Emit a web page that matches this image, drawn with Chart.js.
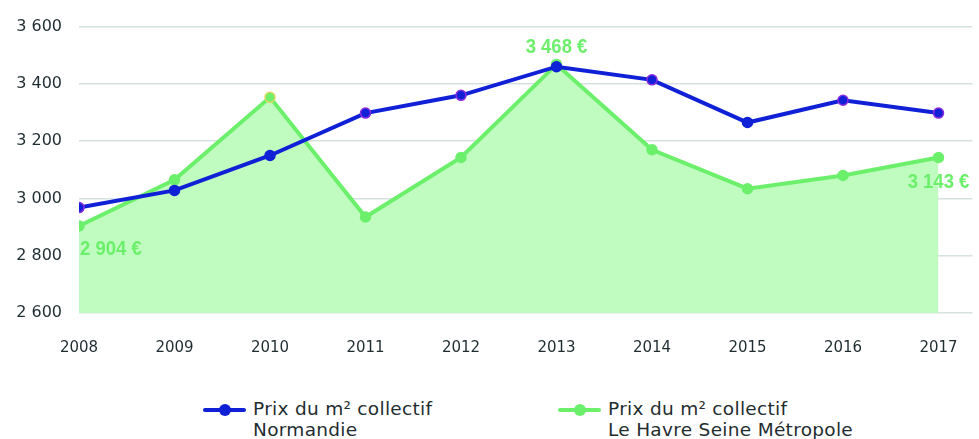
<!DOCTYPE html>
<html>
<head>
<meta charset="utf-8">
<script src="https://cdn.jsdelivr.net/npm/chart.js@4.4.1/dist/chart.umd.min.js"></script>
<style>
  body { margin: 0; background: #fff; }
  #wrap { position: relative; width: 979px; height: 439px; }
  #chart { position: absolute; left: 0; top: 0; }
  .legend { position: absolute; top: 398px; font-family: "DejaVu Sans", sans-serif; font-size: 18.5px; letter-spacing: 0.3px; line-height: 21px; color: #1f2d30; }
  .legend .swatch { position: absolute; left: 0; top: 10px; width: 43px; height: 4px; border-radius: 2px; }
  .legend .dot { position: absolute; left: 16px; top: 6px; width: 12px; height: 12px; border-radius: 50%; }
  .legend .txt { position: absolute; left: 50px; top: 0; white-space: nowrap; }
</style>
</head>
<body>
<div id="wrap">
  <canvas id="chart" width="979" height="360"></canvas>
  <div class="legend" style="left:203px">
    <span class="swatch" style="background:#1020d6"></span><span class="dot" style="background:#1020d6"></span>
    <span class="txt">Prix du m² collectif<br>Normandie</span>
  </div>
  <div class="legend" style="left:558px">
    <span class="swatch" style="background:#6cf06c"></span><span class="dot" style="background:#6cf06c"></span>
    <span class="txt">Prix du m² collectif<br>Le Havre Seine Métropole</span>
  </div>
</div>
<script>
const years = [2008, 2009, 2010, 2011, 2012, 2013, 2014, 2015, 2016, 2017];
const normandie = [2968, 3028, 3150, 3298, 3360, 3460, 3414, 3265, 3343, 3298];
const leHavre = [2904, 3065, 3353, 2935, 3143, 3468, 3170, 3034, 3080, 3143];
const yTicks = [2600, 2800, 3000, 3200, 3400, 3600];

// which green points get a value label, and how
const labelled = [
    { i: 0, align: 'left', dy: 23 },
    { i: 5, align: 'center', dy: -17 },
    { i: 9, align: 'center', dy: 25 }
];

const blueBorders = ['#8a2be2', '#1020d6', '#1020d6', '#8a2be2', '#8a2be2', '#1020d6', '#8a2be2', '#1020d6', '#8a2be2', '#8a2be2'];
const greenBorders = ['#6cf06c', '#6cf06c', '#d8d860', '#6cf06c', '#6cf06c', '#6cf06c', '#6cf06c', '#6cf06c', '#6cf06c', '#6cf06c'];

function fmt(v) {
    return String(v).replace(/\B(?=(\d{3})+(?!\d))/g, ' ');
}

const valueLabels = {
    id: 'valueLabels',
    afterDatasetsDraw(chart) {
        const ctx = chart.ctx;
        const meta = chart.getDatasetMeta(1);
        const sx = 0.88;
        ctx.save();
        ctx.font = 'bold 21px "Liberation Sans", sans-serif';
        ctx.fillStyle = '#6cf06c';
        ctx.textBaseline = 'middle';
        labelled.forEach(l => {
            const pt = meta.data[l.i];
            ctx.save();
            ctx.translate(pt.x + (l.align === 'left' ? 1 : 0), pt.y + l.dy);
            ctx.scale(sx, 1);
            ctx.textAlign = l.align;
            ctx.fillText(fmt(leHavre[l.i]) + ' €', 0, 0);
            ctx.restore();
        });
        ctx.restore();
    }
};

new Chart(document.getElementById('chart').getContext('2d'), {
    type: 'line',
    data: {
        datasets: [{
            label: 'Prix du m² collectif Normandie',
            data: years.map((y, i) => ({ x: y, y: normandie[i] })),
            borderColor: '#1020d6',
            backgroundColor: '#1020d6',
            borderWidth: 4,
            pointRadius: 5,
            pointBorderWidth: 1.5,
            pointBorderColor: blueBorders,
            pointBackgroundColor: '#1020d6',
            fill: false,
            tension: 0
        }, {
            label: 'Prix du m² collectif Le Havre Seine Métropole',
            data: years.map((y, i) => ({ x: y, y: leHavre[i] })),
            borderColor: '#6cf06c',
            backgroundColor: '#c0fcc0',
            borderWidth: 4,
            pointRadius: 5,
            pointBorderWidth: 1.5,
            pointBorderColor: greenBorders,
            pointBackgroundColor: '#6cf06c',
            fill: 'start',
            tension: 0
        }]
    },
    options: {
        responsive: false,
        animation: false,
        layout: { padding: { top: 14, right: 0, left: 0, bottom: 0 } },
        plugins: {
            legend: { display: false },
            tooltip: { enabled: false }
        },
        scales: {
            x: {
                type: 'linear',
                min: 2008,
                max: 2017.356,
                afterFit: s => { s.height = 47; },
                afterBuildTicks: s => { s.ticks = years.map(v => ({ value: v })); },
                grid: { display: false },
                border: { display: false },
                ticks: {
                    autoSkip: false,
                    maxRotation: 0,
                    padding: 18,
                    color: '#1f2d30',
                    font: { family: 'DejaVu Sans', size: 15 },
                    callback: v => String(v)
                }
            },
            y: {
                min: 2600,
                max: 3600,
                afterFit: s => { s.width = 79; },
                afterBuildTicks: s => { s.ticks = yTicks.map(v => ({ value: v })); },
                grid: { color: '#d5e2df', lineWidth: 1.5, drawTicks: false },
                border: { display: false },
                ticks: {
                    padding: 17,
                    color: '#1f2d30',
                    font: { family: 'DejaVu Sans', size: 16 },
                    callback: v => fmt(v)
                }
            }
        }
    },
    plugins: [valueLabels]
});
</script>
</body>
</html>
